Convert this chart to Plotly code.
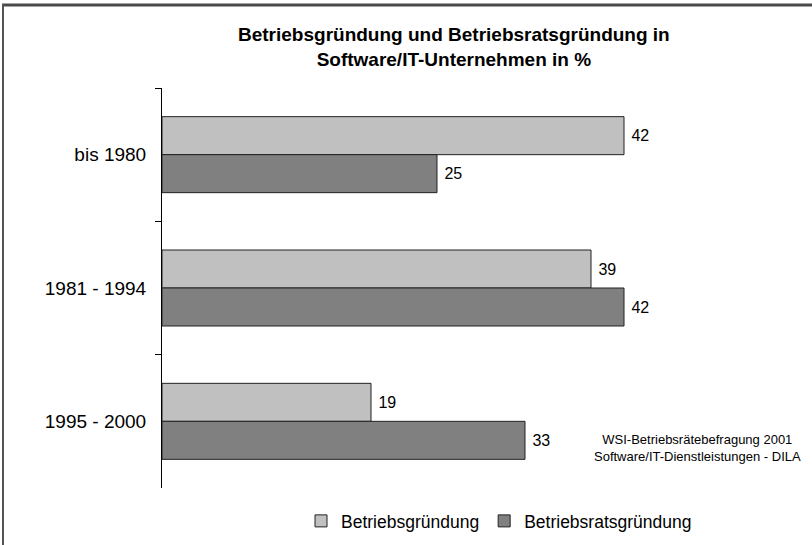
import plotly.graph_objects as go

categories = ["bis 1980", "1981 - 1994", "1995 - 2000"]
betriebsgruendung = [42, 39, 19]
betriebsratsgruendung = [25, 42, 33]
series_names = ["Betriebsgründung", "Betriebsratsgründung"]
title_text = "<b>Betriebsgründung und Betriebsratsgründung in<br>Software/IT-Unternehmen in %</b>"
source_text = "WSI-Betriebsrätebefragung 2001<br>Software/IT-Dienstleistungen - DILA"

W, H = 812, 545
L, R, T, B = 162, 45, 88, 57
pw, ph = W - L - R, H - T - B

def px_x(x):
    return (x - L) / pw

def px_y(y):
    return (H - B - y) / ph

FONT = "Liberation Sans, Arial, sans-serif"

fig = go.Figure()
fig.add_trace(go.Bar(
    y=categories, x=betriebsgruendung, name=series_names[0], orientation="h",
    marker=dict(color="#C0C0C0", line=dict(color="#222222", width=1)),
    texttemplate=" %{x}", textposition="outside", cliponaxis=False,
    textfont=dict(size=16, color="black", family=FONT),
))
fig.add_trace(go.Bar(
    y=categories, x=betriebsratsgruendung, name=series_names[1], orientation="h",
    marker=dict(color="#808080", line=dict(color="#222222", width=1)),
    texttemplate=" %{x}", textposition="outside", cliponaxis=False,
    textfont=dict(size=16, color="black", family=FONT),
))

border = dict(color="#4a4a4a", width=3)
fig.update_layout(
    width=W, height=H,
    margin=dict(l=L, r=R, t=T, b=B, autoexpand=False),
    paper_bgcolor="white", plot_bgcolor="white",
    font=dict(family=FONT, color="black"),
    barmode="group", bargap=0.43, bargroupgap=0,
    showlegend=True,
    legend=dict(orientation="h", x=px_x(499), xanchor="center",
                y=px_y(521), yanchor="middle", font=dict(size=17.5),
                bgcolor="rgba(0,0,0,0)"),
    xaxis=dict(range=[0, 55], visible=False, fixedrange=True),
    yaxis=dict(range=[2.5, -0.5], showline=True, linecolor="black", linewidth=1,
               ticks="outside", tickson="boundaries", ticklen=6, tickcolor="black",
               ticklabelstandoff=11,
               tickfont=dict(size=19), showgrid=False, zeroline=False),
    shapes=[
        dict(type="line", xref="paper", yref="paper",
             x0=px_x(2), x1=px_x(812), y0=px_y(5), y1=px_y(5), line=border, layer="above"),
        dict(type="line", xref="paper", yref="paper",
             x0=px_x(3), x1=px_x(3), y0=px_y(4), y1=px_y(548),
             line=dict(color="#555555", width=2), layer="above"),
    ],
    annotations=[
        dict(text=title_text, xref="paper", yref="paper", x=px_x(454), y=px_y(47),
             xanchor="center", yanchor="middle", showarrow=False, align="center",
             font=dict(size=19, family=FONT)),
        dict(text=source_text, xref="paper", yref="paper", x=px_x(697), y=px_y(448),
             xanchor="center", yanchor="middle", showarrow=False, align="center",
             font=dict(size=13, family=FONT)),
    ],
)

fig.write_html("out.html", config={"displayModeBar": False},
               post_script="document.body.style.margin='0';document.documentElement.style.overflow='hidden';")
